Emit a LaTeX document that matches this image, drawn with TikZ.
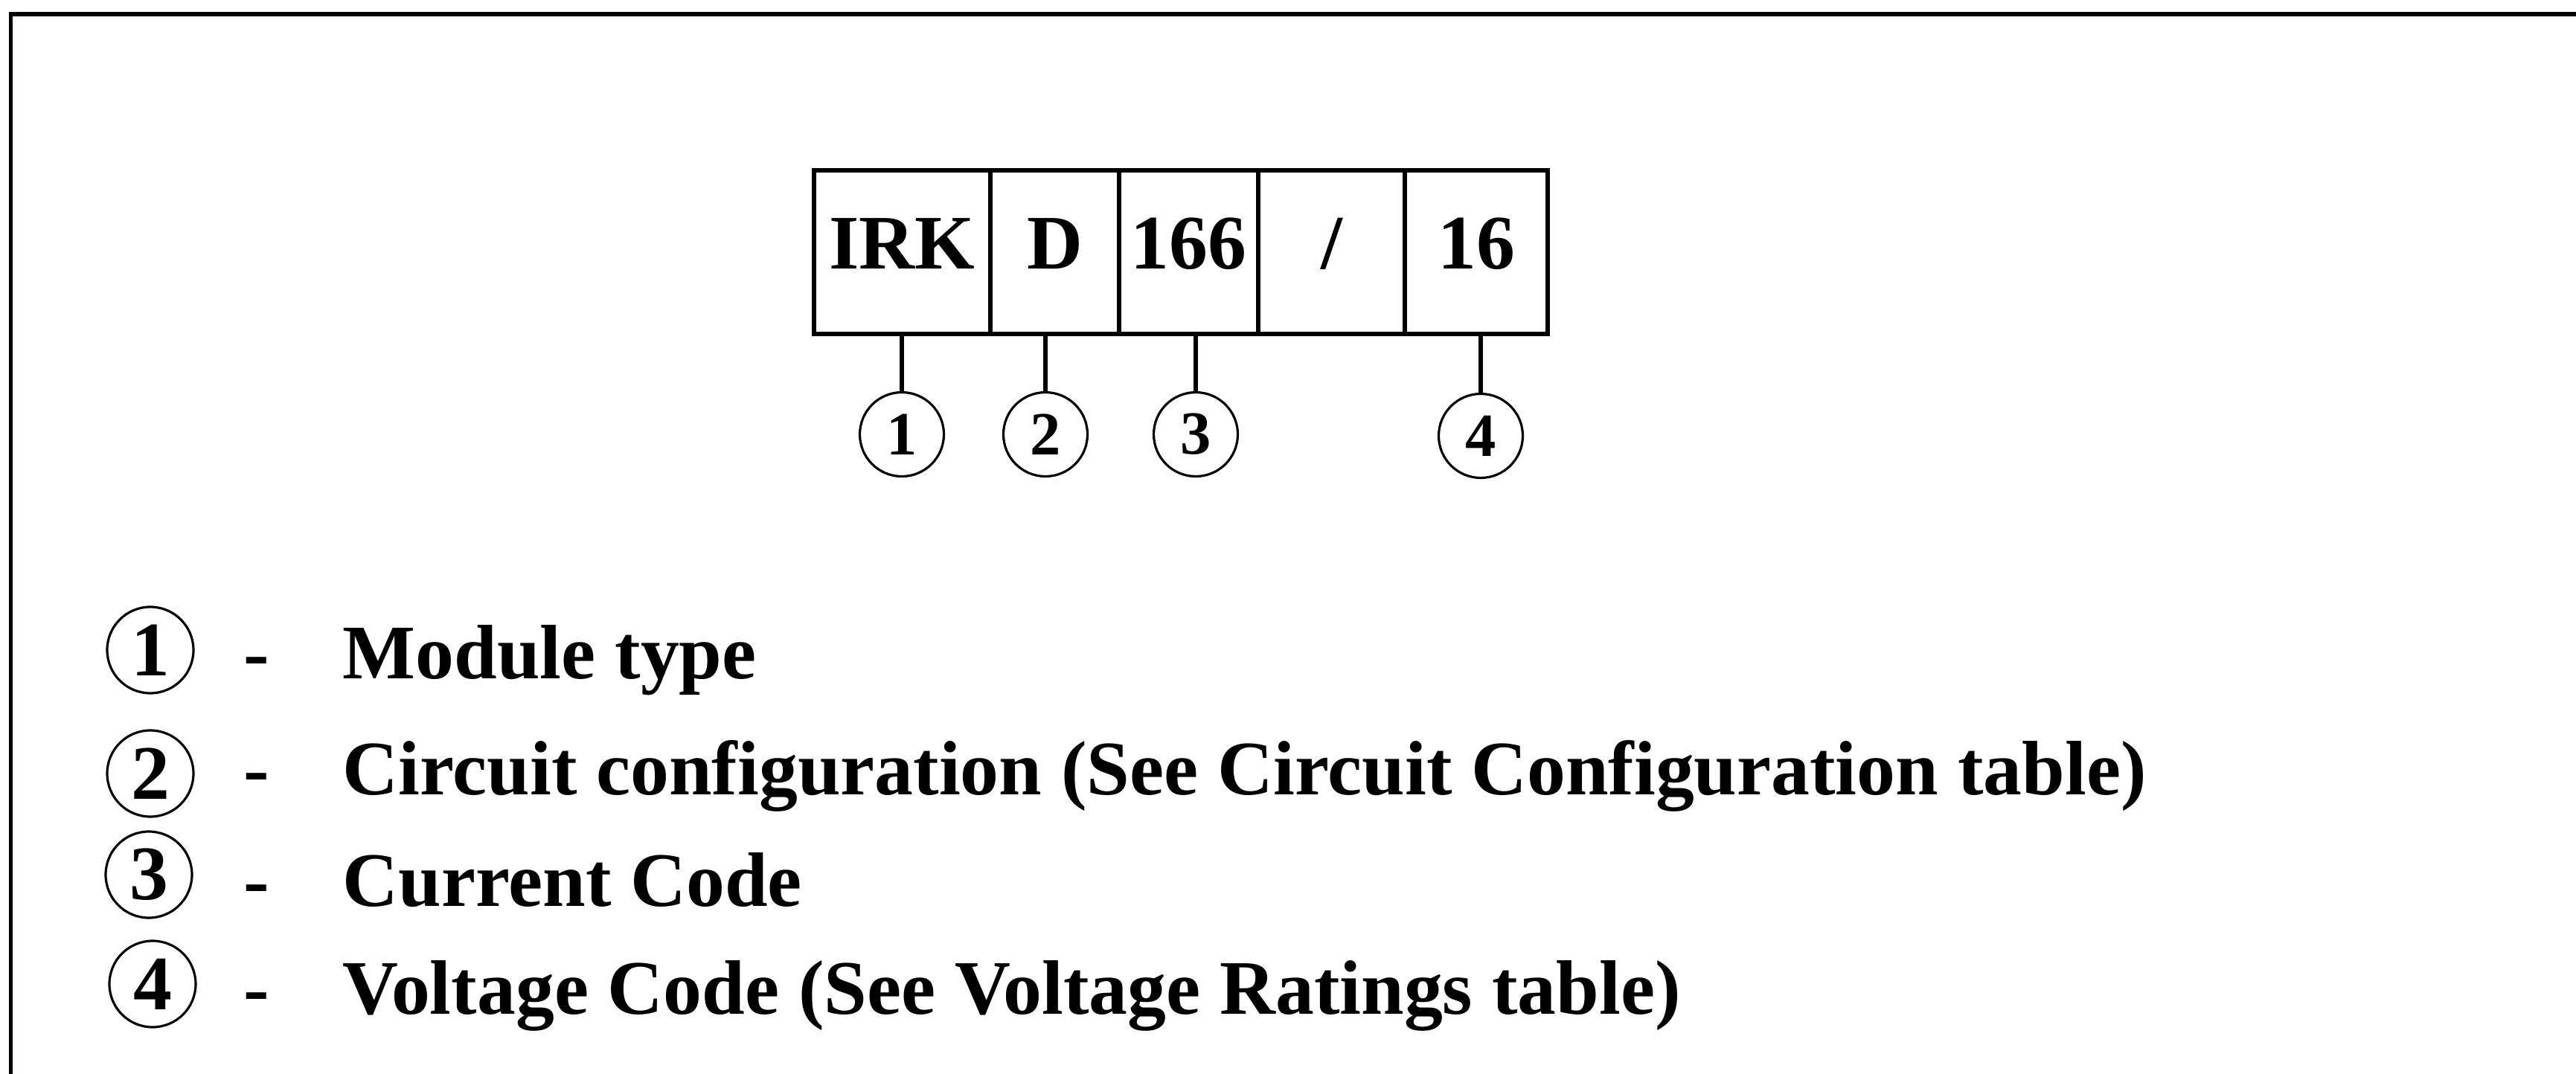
\documentclass[tikz,border=0pt]{standalone}
\usepackage{fontspec}
\setmainfont{Liberation Serif}
\usetikzlibrary{positioning}

\begin{document}
\begin{tikzpicture}[
  cell/.style={draw, line width=1.6pt, outer sep=0pt, inner sep=0pt,
    minimum height=2.20cm, text height=0.72cm, text depth=0.26cm,
    font=\bfseries\fontsize{29.5}{34}\selectfont},
  num/.style={draw, circle, line width=0.9pt, minimum size=1.13cm, inner sep=0pt,
    font=\bfseries\fontsize{23.5}{28}\selectfont},
  key/.style={num, minimum size=1.16cm, font=\bfseries\fontsize{29.5}{34}\selectfont},
  desc/.style={anchor=base west, inner sep=0pt, font=\bfseries\fontsize{29.5}{34}\selectfont},
  hyph/.style={anchor=base, inner sep=0pt, font=\bfseries\fontsize{29.5}{34}\selectfont},
  link/.style={line width=1.6pt},
  frame/.style={line width=1.7pt}
]
\useasboundingbox (0,0) rectangle (34.62,-14.44);
\draw[frame] (0.145,-14.44) -- (0.145,-0.19) -- (34.62,-0.19);

% part number boxes
\node[cell, minimum width=2.37cm] (irk) at (12.125,-3.39) {IRK};
\node[cell, minimum width=1.73cm, right=0pt of irk] (config) {D};
\node[cell, minimum width=1.87cm, right=0pt of config] (current) {166};
\node[cell, minimum width=1.97cm, right=0pt of current] (slash) {/};
\node[cell, minimum width=1.92cm, right=0pt of slash] (voltage) {16};

\node[num] (n1) at (12.12,-5.84) {1};
\node[num] (n2) at (14.05,-5.84) {2};
\node[num] (n3) at (16.07,-5.84) {3};
\node[num] (n4) at (19.90,-5.86) {4};
\draw[link] (n1.north) -- (n1.north |- irk.south);
\draw[link] (n2.north) -- (n2.north |- config.south);
\draw[link] (n3.north) -- (n3.north |- current.south);
\draw[link] (n4.north) -- (n4.north |- voltage.south);

% legend
\node[key] (key1) at (2.02,-8.74) {1};
\node[key] (key2) at (2.02,-10.40) {2};
\node[key] (key3) at (2.00,-11.76) {3};
\node[key] (key4) at (2.05,-13.23) {4};
\node[hyph] (hyph1) at (3.45,-9.12) {-};
\node[hyph] (hyph2) at (3.45,-10.68) {-};
\node[hyph] (hyph3) at (3.45,-12.18) {-};
\node[hyph] (hyph4) at (3.45,-13.63) {-};
\node[desc] (txt1) at (4.60,-9.12) {Module type};
\node[desc] (txt2) at (4.60,-10.68) {Circuit configuration (See Circuit Configuration table)};
\node[desc] (txt3) at (4.60,-12.18) {Current Code};
\node[desc] (txt4) at (4.60,-13.63) {Voltage Code (See Voltage Ratings table)};
\end{tikzpicture}
\end{document}
